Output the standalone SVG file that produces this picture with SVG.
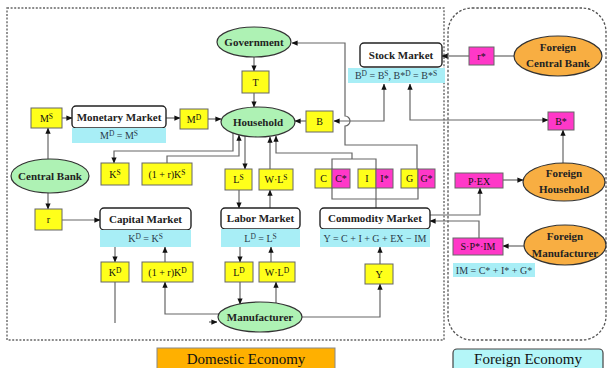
<svg xmlns="http://www.w3.org/2000/svg" width="608" height="368" viewBox="0 0 608 368">
<defs>
<marker id="a" viewBox="0 0 8 8" refX="7.5" refY="4" markerWidth="6" markerHeight="6" markerUnits="userSpaceOnUse" orient="auto-start-reverse">
<path d="M0,0.5 L8,4 L0,7.5 Z" fill="#111"/>
</marker>
<style>
.y{fill:#FFFF1A;stroke:#666;stroke-width:1}
.m{fill:#FF38C8;stroke:#666;stroke-width:1}
.c{fill:#A8EEF6}
.g{fill:#AEF2B4;stroke:#333;stroke-width:1.2}
.o{fill:#F8AE42;stroke:#333;stroke-width:1.2}
.k{fill:#fff;stroke:#222;stroke-width:1.4}
text{font-family:'Liberation Serif','Times New Roman','DejaVu Serif',serif}
.t{font-size:10px;fill:#111;text-anchor:middle}
.n{font-size:11px;font-weight:bold;fill:#222}
.f{fill:#2a3a4a;font-size:10px}
.ln{fill:none;stroke:#666;stroke-width:1.2}
.ar{marker-end:url(#a)}
.as{marker-start:url(#a)}
.sup{font-size:7.5px}
</style>
</defs>
<rect width="608" height="368" fill="#fff"/>
<g id="borders">
<rect x="7" y="8" width="437" height="332" fill="none" stroke="#666" stroke-width="1.4" stroke-dasharray="2,1.6"/>
<rect x="448" y="8" width="158" height="332" rx="24" fill="none" stroke="#555" stroke-width="1.3" stroke-dasharray="2.5,1.8"/>
</g>
<g id="connectors" class="ln">
<path class="ar" d="M62,118H72"/>
<path class="ar" d="M166,118H180"/>
<path class="ar" d="M208,119H221"/>
<path class="ar" d="M48,159V128"/>
<path class="ar" d="M48,193V209"/>
<path class="ar" d="M62,220H100"/>
<path class="ar" d="M254,57V71"/>
<path class="ar" d="M254,93V107"/>
<path class="ar" d="M306,121H295"/>
<path class="ar as" d="M384,84V121H334"/>
<path class="ar as" d="M410,84V120H548"/>
<path class="ar" d="M417,169V145H345V126A5,5 0 0 0 345,116V43H292"/>
<path class="ar" d="M233,133V151H114V163"/>
<path class="ar" d="M167,163V156H239V135"/>
<path class="ar" d="M245,136V169"/>
<path class="ar" d="M239,190V208"/>
<path class="ar" d="M270,208V190"/>
<path class="ar" d="M270,169V137"/>
<path class="ar" d="M352,159V153H276V136"/>
<path d="M332,169V159H376V169"/>
<path d="M332,188V199H418V188M376,188V208"/>
<path class="ar" d="M115,247V262"/>
<path class="ar" d="M165,262V247"/>
<path d="M115,282V323"/>
<path class="ar" d="M209,322H217"/>
<path class="ar" d="M219,314H165V282"/>
<path class="ar" d="M240,247V262"/>
<path class="ar" d="M271,262V247"/>
<path class="ar" d="M240,282V304"/>
<path class="ar" d="M276,303V282"/>
<path class="ar" d="M302,317H380V284"/>
<path class="ar" d="M380,264V247"/>
<path class="ar" d="M430,215H480V188"/>
<path class="ar" d="M479,238V221H430"/>
<path class="ar" d="M503,180H523"/>
<path class="ar" d="M524,246H503"/>
<path class="ar" d="M563,163V130"/>
<path class="ar" d="M469,56H442"/>
<path d="M494,56H514"/>
</g>
<g font-family="Liberation Serif, serif">
<g id="government"><ellipse class="g" cx="254" cy="42" rx="37" ry="15"/><text class="t n" x="254" y="46">Government</text></g>
<g id="T"><rect class="y" x="242" y="71" width="27" height="22"/><text class="t" x="255.5" y="86">T</text></g>
<g id="household"><ellipse class="g" cx="258" cy="122" rx="37" ry="15"/><text class="t n" x="258" y="126">Household</text></g>
<g id="B"><rect class="y" x="306" y="111" width="27" height="21"/><text class="t" x="319.5" y="125">B</text></g>
<g id="stock-market"><rect class="k" x="360" y="43" width="82" height="24" rx="4"/><text class="t n" x="401" y="59">Stock Market</text>
<rect class="c" x="348" y="68" width="97" height="15"/><text class="t f" x="396" y="79">B<tspan class="sup" dy="-3">D</tspan><tspan dy="3"> = B</tspan><tspan class="sup" dy="-3">S</tspan><tspan dy="3">, B*</tspan><tspan class="sup" dy="-3">D</tspan><tspan dy="3"> = B*</tspan><tspan class="sup" dy="-3">S</tspan></text></g>
<g id="r-star"><rect class="m" x="469" y="47" width="25" height="18"/><text class="t" x="481.5" y="60">r*</text></g>
<g id="foreign-central-bank"><ellipse class="o" cx="558" cy="56" rx="44" ry="20"/><text class="t n" x="558" y="51">Foreign</text><text class="t n" x="558" y="67">Central Bank</text></g>
<g id="B-star"><rect class="m" x="548" y="112" width="26" height="18"/><text class="t" x="561" y="125">B*</text></g>
<g id="MS"><rect class="y" x="31" y="108" width="31" height="20"/><text class="t" x="46.5" y="122">M<tspan class="sup" dy="-3">S</tspan></text></g>
<g id="monetary-market"><rect class="k" x="72" y="106" width="94" height="22" rx="4"/><text class="t n" x="119" y="121">Monetary Market</text>
<rect class="c" x="72" y="128" width="94" height="15"/><text class="t f" x="119" y="139">M<tspan class="sup" dy="-3">D</tspan><tspan dy="3"> = M</tspan><tspan class="sup" dy="-3">S</tspan></text></g>
<g id="MD"><rect class="y" x="180" y="109" width="28" height="20"/><text class="t" x="194" y="123">M<tspan class="sup" dy="-3">D</tspan></text></g>
<g id="central-bank"><ellipse class="g" cx="50" cy="176" rx="39" ry="17"/><text class="t n" x="50" y="180">Central Bank</text></g>
<g id="r"><rect class="y" x="35" y="209" width="27" height="21"/><text class="t" x="48.5" y="223">r</text></g>
<g id="capital-market"><rect class="k" x="100" y="208" width="91" height="22" rx="4"/><text class="t n" x="145.5" y="223">Capital Market</text>
<rect class="c" x="100" y="230" width="91" height="17"/><text class="t f" x="145.5" y="242">K<tspan class="sup" dy="-3">D</tspan><tspan dy="3"> = K</tspan><tspan class="sup" dy="-3">S</tspan></text></g>
<g id="KS"><rect class="y" x="101" y="163" width="28" height="22"/><text class="t" x="115" y="178">K<tspan class="sup" dy="-3">S</tspan></text></g>
<g id="rKS"><rect class="y" x="142" y="163" width="50" height="22"/><text class="t" x="167" y="178">(1 + r)K<tspan class="sup" dy="-3">S</tspan></text></g>
<g id="KD"><rect class="y" x="101" y="262" width="28" height="20"/><text class="t" x="115" y="276">K<tspan class="sup" dy="-3">D</tspan></text></g>
<g id="rKD"><rect class="y" x="142" y="262" width="51" height="20"/><text class="t" x="167.5" y="276">(1 + r)K<tspan class="sup" dy="-3">D</tspan></text></g>
<g id="labor-market"><rect class="k" x="221" y="208" width="79" height="21" rx="4"/><text class="t n" x="260.5" y="222">Labor Market</text>
<rect class="c" x="221" y="229" width="79" height="18"/><text class="t f" x="260.5" y="242">L<tspan class="sup" dy="-3">D</tspan><tspan dy="3"> = L</tspan><tspan class="sup" dy="-3">S</tspan></text></g>
<g id="LS"><rect class="y" x="225" y="169" width="27" height="21"/><text class="t" x="238.5" y="183">L<tspan class="sup" dy="-3">S</tspan></text></g>
<g id="WLS"><rect class="y" x="259" y="169" width="34" height="21"/><text class="t" x="276" y="183">W·L<tspan class="sup" dy="-3">S</tspan></text></g>
<g id="LD"><rect class="y" x="225" y="262" width="28" height="20"/><text class="t" x="239" y="276">L<tspan class="sup" dy="-3">D</tspan></text></g>
<g id="WLD"><rect class="y" x="259" y="262" width="36" height="20"/><text class="t" x="277" y="276">W·L<tspan class="sup" dy="-3">D</tspan></text></g>
<g id="commodity-market"><rect class="k" x="320" y="208" width="110" height="21" rx="4"/><text class="t n" x="375" y="222">Commodity Market</text>
<rect class="c" x="320" y="229" width="110" height="18"/><text class="t f" x="375" y="242">Y = C + I + G + EX − IM</text></g>
<g id="C"><rect class="y" x="315" y="169" width="17" height="19"/><text class="t" x="323.5" y="182">C</text></g>
<g id="C-star"><rect class="m" x="332" y="169" width="18" height="19"/><text class="t" x="341" y="182">C*</text></g>
<g id="I"><rect class="y" x="358" y="169" width="18" height="19"/><text class="t" x="367" y="182">I</text></g>
<g id="I-star"><rect class="m" x="376" y="169" width="17" height="19"/><text class="t" x="384.5" y="182">I*</text></g>
<g id="G"><rect class="y" x="401" y="169" width="17" height="19"/><text class="t" x="409.5" y="182">G</text></g>
<g id="G-star"><rect class="m" x="418" y="169" width="17" height="19"/><text class="t" x="426.5" y="182">G*</text></g>
<g id="Y"><rect class="y" x="365" y="264" width="28" height="20"/><text class="t" x="379" y="278">Y</text></g>
<g id="manufacturer"><ellipse class="g" cx="260" cy="317" rx="42" ry="15"/><text class="t n" x="260" y="321">Manufacturer</text></g>
<g id="PEX"><rect class="m" x="455" y="173" width="48" height="15"/><text class="t" x="479" y="185">P·EX</text></g>
<g id="foreign-household"><ellipse class="o" cx="564" cy="182" rx="41" ry="19"/><text class="t n" x="564" y="177">Foreign</text><text class="t n" x="564" y="193">Household</text></g>
<g id="SPIM"><rect class="m" x="453" y="238" width="50" height="17"/><text class="t" x="478" y="250">S·P*·IM</text></g>
<g id="foreign-manufacturer"><ellipse class="o" cx="565" cy="245" rx="41" ry="20"/><text class="t n" x="565" y="240">Foreign</text><text class="t n" x="565" y="257">Manufacturer</text></g>
<g id="IM-formula"><rect class="c" x="453" y="263" width="82" height="14"/><text class="t f" x="494" y="274">IM = C* + I* + G*</text></g>
<g id="legend-domestic"><rect x="157" y="348" width="178" height="26" fill="#FFB000" stroke="#888" stroke-width="1"/><text class="t" style="font-size:15px" x="246" y="364">Domestic Economy</text></g>
<g id="legend-foreign"><rect x="453" y="349" width="150" height="26" rx="4" fill="#B4F6F8" stroke="#444" stroke-width="1.2"/><text class="t" style="font-size:15px" x="528" y="364">Foreign Economy</text></g>
</g>
</svg>
